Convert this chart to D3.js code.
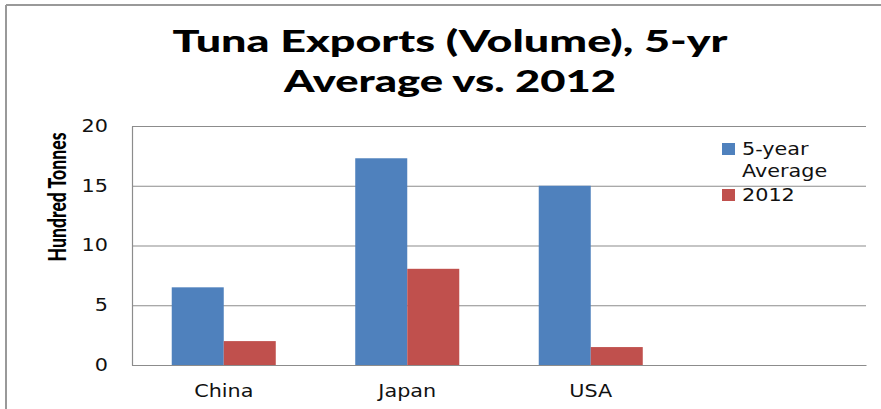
<!DOCTYPE html>
<html>
<head>
<meta charset="utf-8">
<script src="https://cdn.jsdelivr.net/npm/d3@7"></script>
<style>
  html, body { margin: 0; padding: 0; background: #fff; }
  svg { display: block; }
</style>
</head>
<body>
<div id="chart"></div>
<script>
// Tuna exports: 5-year average vs 2012, clustered columns
const categories = ["China", "Japan", "USA", ""];
const seriesNames = ["5-year Average", "2012"];
const avgValues = [6.5, 17.3, 15.0, null];
const values2012 = [2.0, 8.05, 1.5, null];
const yTicks = [0, 5, 10, 15, 20];
const colors = ["#4F81BD", "#C0504D"];

const width = 881, height = 409;
const margin = { left: 132, right: 15, top: 126, bottom: 44 };
const plotRight = width - margin.right;
const plotBottom = height - margin.bottom;

const svg = d3.select("#chart").append("svg")
  .attr("width", width)
  .attr("height", height);

// stretch text horizontally, the source render is wide
function stretch(sel, k) {
  sel.each(function() {
    const w = this.getComputedTextLength();
    d3.select(this).attr("textLength", w * k).attr("lengthAdjust", "spacingAndGlyphs");
  });
}

// frame (top + left edge only)
svg.append("line").attr("x1", 6).attr("x2", width).attr("y1", 5).attr("y2", 5)
  .attr("stroke", "#999").attr("stroke-width", 2);
svg.append("line").attr("x1", 6).attr("x2", 6).attr("y1", 5).attr("y2", height)
  .attr("stroke", "#999").attr("stroke-width", 2);

const x = d3.scaleBand().domain(categories).range([margin.left, plotRight]).padding(0);
const xSub = d3.scaleBand().domain(seriesNames).range([0, x.bandwidth()])
  .paddingInner(0).paddingOuter(0.764);
const y = d3.scaleLinear().domain([0, 20]).range([plotBottom, margin.top]);

// gridlines
svg.append("g")
  .attr("transform", `translate(${margin.left},0)`)
  .call(d3.axisLeft(y).tickValues(yTicks).tickSize(-(plotRight - margin.left)).tickFormat(""))
  .call(g => g.select(".domain").remove())
  .call(g => g.selectAll("line").attr("stroke", "#8c8c8c").attr("stroke-width", 1.2));

// bars
const rows = categories.map((c, i) => ({ cat: c, vals: [avgValues[i], values2012[i]] }));
svg.append("g").selectAll("g")
  .data(rows)
  .join("g")
  .attr("transform", d => `translate(${x(d.cat)},0)`)
  .selectAll("rect")
  .data(d => d.vals.map((v, j) => ({ name: seriesNames[j], v, j })).filter(d => d.v != null))
  .join("rect")
  .attr("x", d => xSub(d.name))
  .attr("width", xSub.bandwidth())
  .attr("y", d => y(d.v))
  .attr("height", d => plotBottom - y(d.v))
  .attr("fill", d => colors[d.j]);

// y axis
const yAxis = svg.append("g")
  .attr("transform", `translate(${margin.left},0)`)
  .call(d3.axisLeft(y).tickValues(yTicks).tickSize(0).tickSizeOuter(0).tickPadding(24));
yAxis.select(".domain").attr("stroke", "#8c8c8c").attr("stroke-width", 1.2);
yAxis.selectAll("text")
  .style("font-family", "'DejaVu Sans', sans-serif")
  .style("font-size", "17px")
  .attr("fill", "#111")
  .call(stretch, 1.22);

// x axis
const xAxis = svg.append("g")
  .attr("transform", `translate(0,${plotBottom})`)
  .call(d3.axisBottom(x).tickSize(0).tickSizeOuter(0).tickPadding(20));
xAxis.select(".domain").attr("stroke", "#8c8c8c").attr("stroke-width", 1.2);
xAxis.selectAll("text")
  .style("font-family", "'DejaVu Sans', sans-serif")
  .style("font-size", "17px")
  .attr("fill", "#111")
  .call(stretch, 1.22);

// y label
svg.append("text")
  .attr("transform", `translate(66,197) rotate(-90)`)
  .attr("text-anchor", "middle")
  .style("font-family", "Lato, sans-serif")
  .style("font-weight", "900")
  .style("font-size", "24px")
  .attr("textLength", 129)
  .attr("lengthAdjust", "spacingAndGlyphs")
  .text("Hundred Tonnes");

// title
const titleLines = [
  { t: "Tuna Exports (Volume), 5-yr", y: 52, w: 555 },
  { t: "Average vs. 2012", y: 92, w: 332 }
];
svg.append("g").selectAll("text")
  .data(titleLines)
  .join("text")
  .attr("x", 450)
  .attr("y", d => d.y)
  .attr("text-anchor", "middle")
  .style("font-family", "Lato, sans-serif")
  .style("font-weight", "900")
  .style("font-size", "30px")
  .attr("textLength", d => d.w)
  .attr("lengthAdjust", "spacingAndGlyphs")
  .text(d => d.t);

// legend
const legend = svg.append("g").attr("transform", "translate(722,0)");
const legendItems = [
  { lines: ["5-year", "Average"], y: 143, c: colors[0] },
  { lines: ["2012"], y: 189, c: colors[1] }
];
legendItems.forEach(item => {
  legend.append("rect").attr("x", 0).attr("y", item.y).attr("width", 13).attr("height", 12).attr("fill", item.c);
  item.lines.forEach((ln, k) => {
    legend.append("text")
      .attr("x", 20)
      .attr("y", item.y + 12 + k * 22)
      .style("font-family", "'DejaVu Sans', sans-serif")
      .style("font-size", "17px")
      .attr("fill", "#111")
      .text(ln)
      .call(stretch, 1.22);
  });
});
</script>
</body>
</html>
